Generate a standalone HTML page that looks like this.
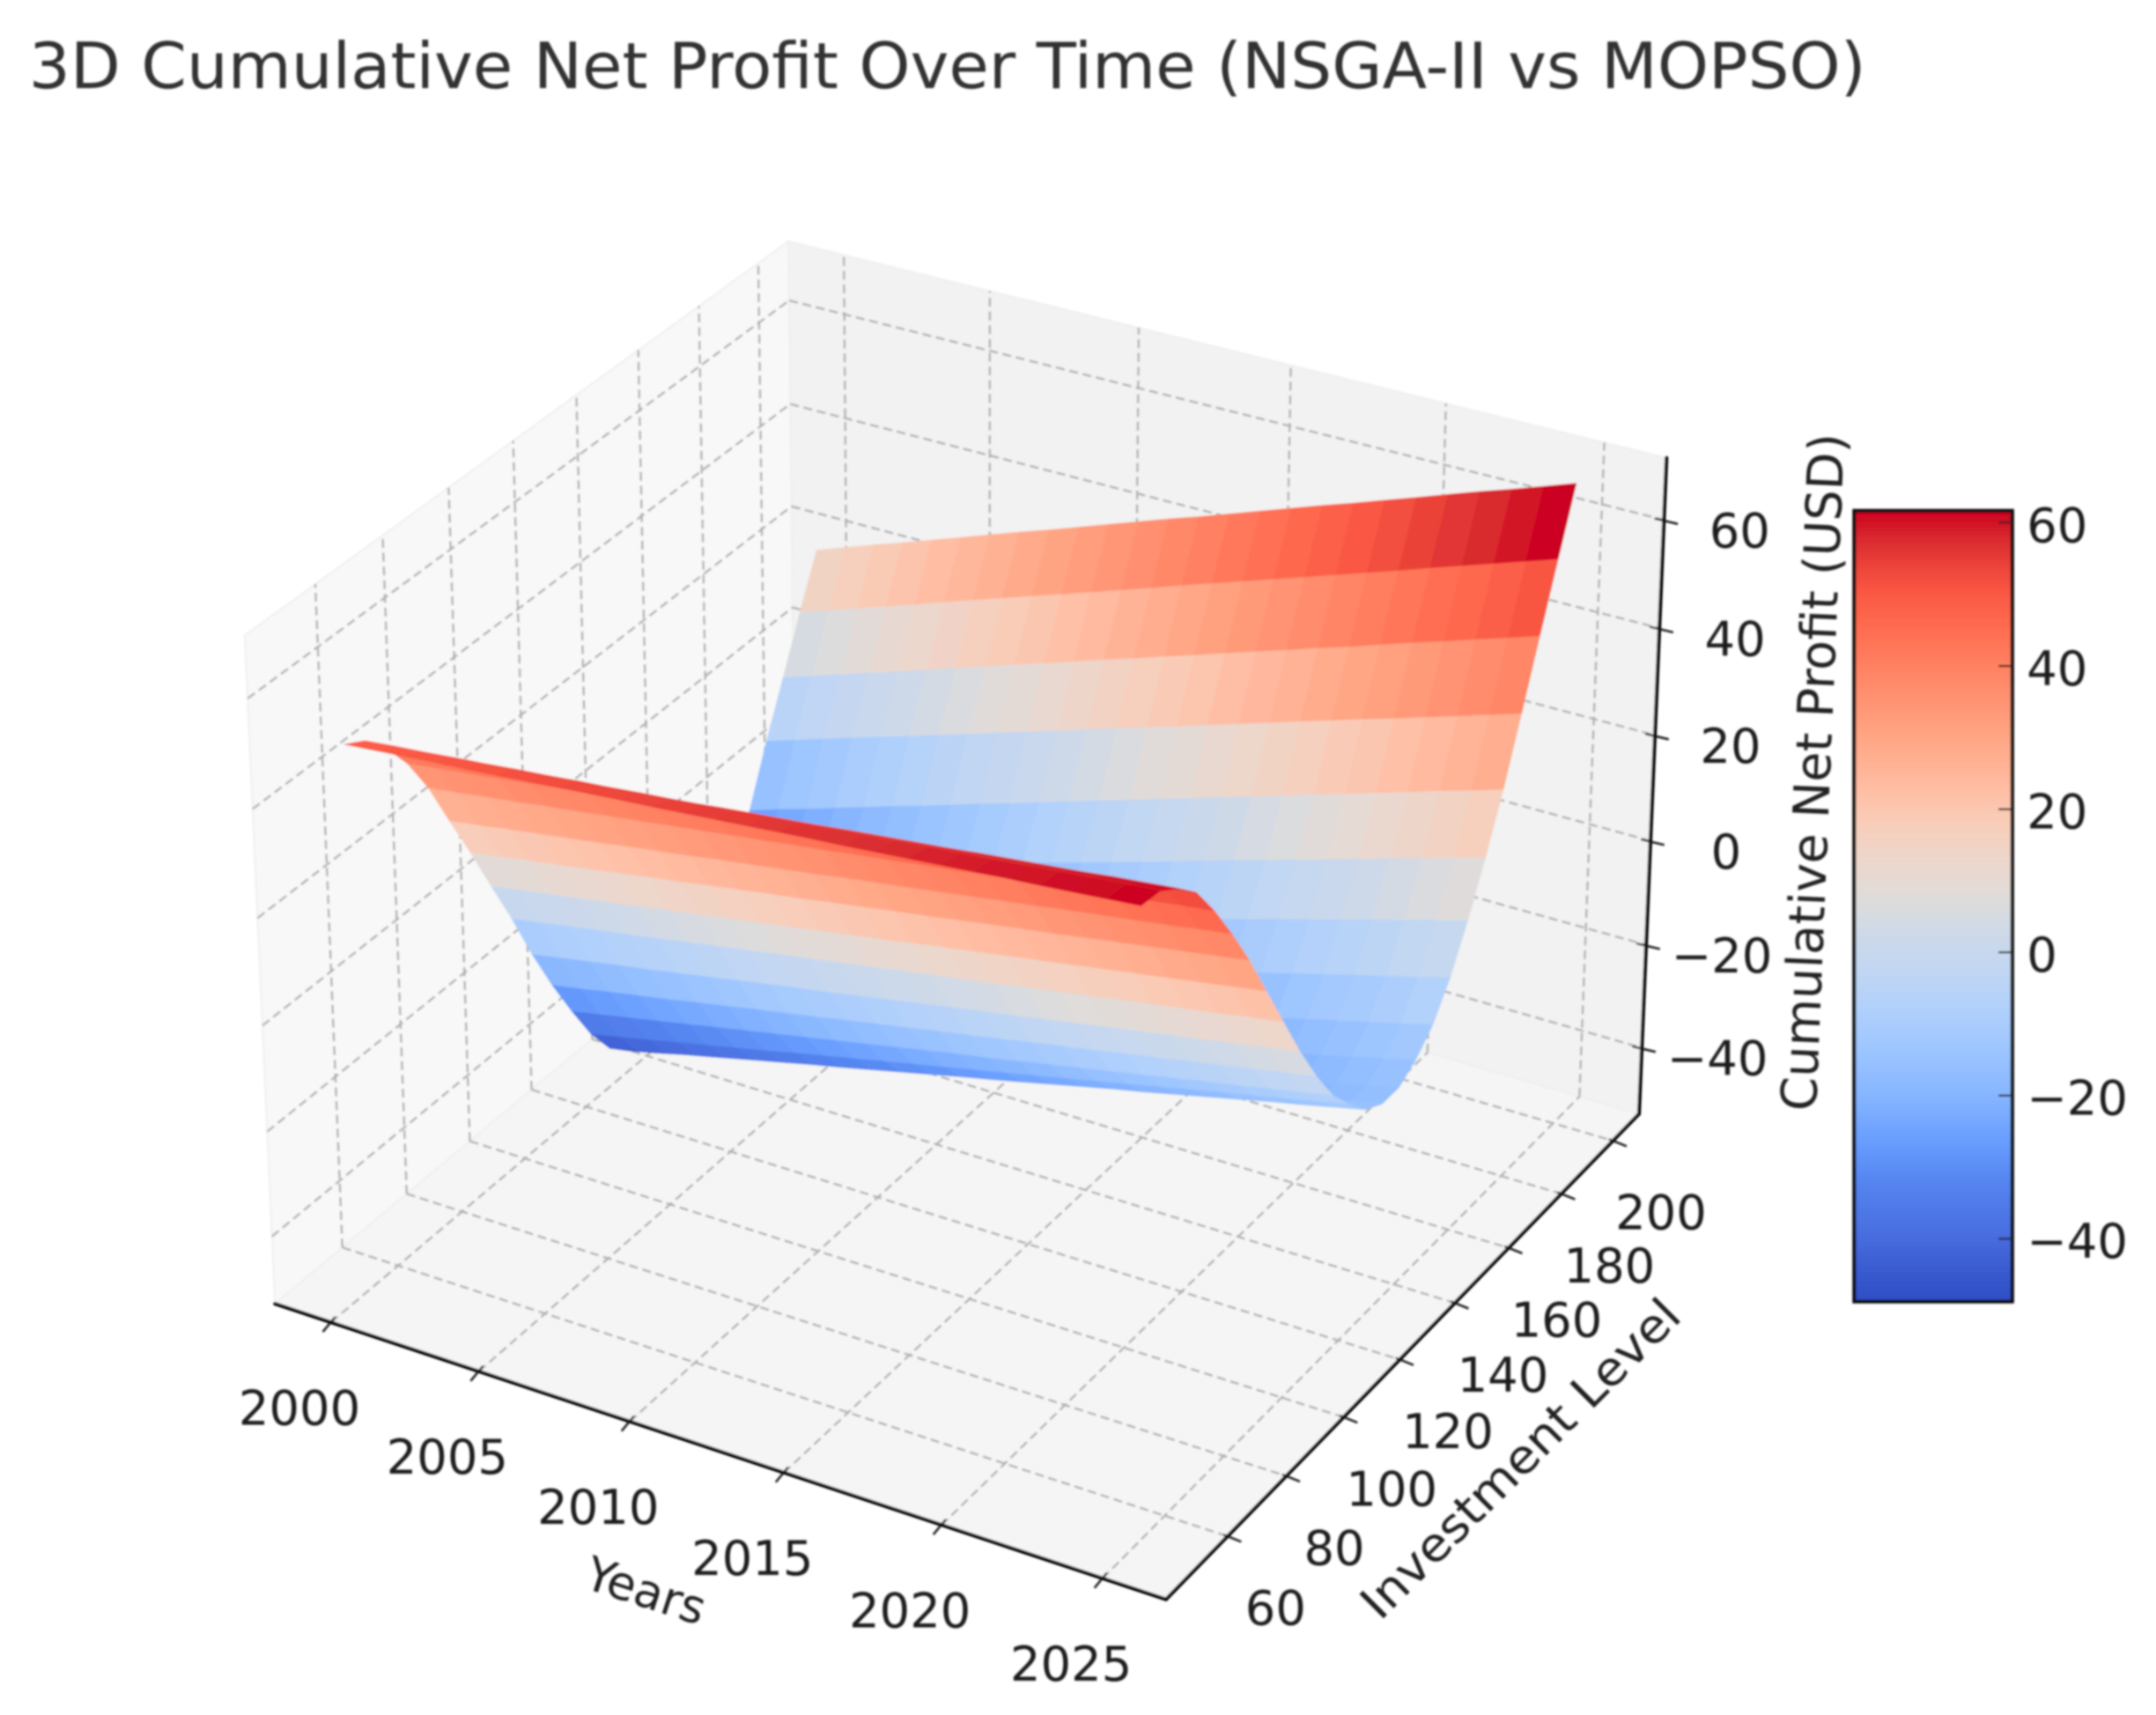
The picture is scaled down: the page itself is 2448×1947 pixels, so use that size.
<!DOCTYPE html>
<html lang="en">
<head>
<meta charset="utf-8">
<title>3D Cumulative Net Profit Over Time (NSGA-II vs MOPSO)</title>
<style>
html,body{margin:0;padding:0;background:#fff;}
svg{display:block;}
text{font-family:"DejaVu Sans","Liberation Sans",sans-serif;}
</style>
</head>
<body>
<svg id="chart" xmlns="http://www.w3.org/2000/svg" width="2448" height="1947" viewBox="0 0 1568 1247.1">
  <defs>
    <filter id="soft" filterUnits="userSpaceOnUse" x="0" y="0" width="1568" height="1248"><feGaussianBlur stdDeviation="0.6"/></filter>
    <linearGradient id="cbar-gradient" x1="0" y1="1" x2="0" y2="0"></linearGradient>
  </defs>
  <rect x="0" y="0" width="1568" height="1248" fill="#ffffff"/>
  <g id="root" filter="url(#soft)">
    <text x="21" y="64" font-size="46" fill="#333333" textLength="1336" lengthAdjust="spacingAndGlyphs">3D Cumulative Net Profit Over Time (NSGA-II vs MOPSO)</text>
    <g id="panes"></g>
    <g id="grid"></g>
    <g id="surface"></g>
    <g id="axes"></g>
    <g id="labels"></g>
    <text x="0" y="0" font-size="34" fill="#222222" text-anchor="middle" transform="translate(466,1168) rotate(18)">Years</text>
    <text x="0" y="0" font-size="34" fill="#222222" text-anchor="middle" textLength="312" lengthAdjust="spacingAndGlyphs" transform="translate(1114,1069) rotate(-45)">Investment Level</text>
    <text x="0" y="0" font-size="36" fill="#222222" text-anchor="middle" textLength="493" lengthAdjust="spacingAndGlyphs" transform="translate(1331,562) rotate(-87.6)">Cumulative Net Profit (USD)</text>
    <g id="colorbar"></g>
  </g>
</svg>
<script>
const years = [2000,2001,2002,2003,2004,2005,2006,2007,2008,2009,2010,2011,2012,2013,2014,2015,2016,2017,2018,2019,2020,2021,2022,2023,2024,2025];
const levels = [50,56,62,68,74,80,86,92,98,104,110,116,122,128,134,140,146,152,158,164,170,176,182,188,194,200];
const profit = [
[49.9,50.4,50.9,51.4,51.8,52.3,52.8,53.3,53.8,54.3,54.7,55.2,55.7,56.2,56.7,57.2,57.6,58.1,58.6,59.1,59.6,60.1,60.5,61.0,61.5,62.0],
[47.8,48.4,48.9,49.5,50.0,50.6,51.1,51.7,52.2,52.8,53.3,53.9,54.4,55.0,55.5,56.1,56.6,57.2,57.7,58.3,58.8,59.4,59.9,60.5,61.0,61.6],
[43.6,44.2,44.8,45.5,46.1,46.7,47.3,48.0,48.6,49.2,49.8,50.5,51.1,51.7,52.3,53.0,53.6,54.2,54.8,55.5,56.1,56.7,57.3,58.0,58.6,59.2],
[38.1,38.8,39.5,40.2,40.9,41.6,42.3,43.0,43.7,44.4,45.1,45.8,46.5,47.2,47.9,48.6,49.3,50.0,50.7,51.4,52.1,52.8,53.5,54.2,54.9,55.6],
[30.8,31.5,32.3,33.0,33.8,34.5,35.3,36.0,36.8,37.5,38.3,39.0,39.8,40.5,41.3,42.0,42.8,43.5,44.3,45.0,45.8,46.5,47.3,48.0,48.8,49.5],
[21.8,22.6,23.5,24.3,25.1,25.9,26.8,27.6,28.4,29.3,30.1,30.9,31.7,32.6,33.4,34.2,35.0,35.9,36.7,37.5,38.4,39.2,40.0,40.8,41.7,42.5],
[13.0,13.9,14.8,15.6,16.5,17.4,18.3,19.1,20.0,20.9,21.8,22.6,23.5,24.4,25.3,26.1,27.0,27.9,28.8,29.6,30.5,31.4,32.3,33.1,34.0,34.9],
[3.8,4.7,5.6,6.5,7.4,8.3,9.2,10.1,11.0,11.9,12.8,13.7,14.6,15.5,16.5,17.4,18.3,19.2,20.1,21.0,21.9,22.8,23.7,24.6,25.5,26.4],
[-5.3,-4.4,-3.4,-2.5,-1.6,-0.7,0.3,1.2,2.1,3.1,4.0,4.9,5.8,6.8,7.7,8.6,9.5,10.5,11.4,12.3,13.3,14.2,15.1,16.0,17.0,17.9],
[-15.1,-14.1,-13.1,-12.1,-11.2,-10.2,-9.2,-8.2,-7.2,-6.2,-5.3,-4.3,-3.3,-2.3,-1.3,-0.3,0.6,1.6,2.6,3.6,4.6,5.6,6.5,7.5,8.5,9.5],
[-24.0,-23.0,-21.9,-20.9,-19.9,-18.8,-17.8,-16.7,-15.7,-14.7,-13.6,-12.6,-11.6,-10.5,-9.5,-8.5,-7.4,-6.4,-5.4,-4.3,-3.3,-2.2,-1.2,-0.2,0.9,1.9],
[-32.1,-31.0,-29.9,-28.8,-27.7,-26.6,-25.5,-24.4,-23.3,-22.2,-21.1,-20.0,-18.9,-17.8,-16.8,-15.7,-14.6,-13.5,-12.4,-11.3,-10.2,-9.1,-8.0,-6.9,-5.8,-4.7],
[-39.6,-38.4,-37.2,-36.0,-34.8,-33.6,-32.4,-31.1,-29.9,-28.7,-27.5,-26.3,-25.1,-23.9,-22.7,-21.5,-20.3,-19.1,-17.9,-16.6,-15.4,-14.2,-13.0,-11.8,-10.6,-9.4],
[-45.5,-44.2,-42.9,-41.7,-40.4,-39.1,-37.8,-36.5,-35.3,-34.0,-32.7,-31.4,-30.1,-28.9,-27.6,-26.3,-25.0,-23.7,-22.5,-21.2,-19.9,-18.6,-17.3,-16.1,-14.8,-13.5],
[-49.0,-47.7,-46.3,-45.0,-43.6,-42.3,-41.0,-39.6,-38.3,-36.9,-35.6,-34.3,-32.9,-31.6,-30.2,-28.9,-27.6,-26.2,-24.9,-23.5,-22.2,-20.9,-19.5,-18.2,-16.8,-15.5],
[-49.9,-48.5,-47.1,-45.8,-44.4,-43.0,-41.6,-40.3,-38.9,-37.5,-36.1,-34.8,-33.4,-32.0,-30.6,-29.3,-27.9,-26.5,-25.1,-23.8,-22.4,-21.0,-19.6,-18.3,-16.9,-15.5],
[-49.0,-47.6,-46.1,-44.7,-43.3,-41.9,-40.4,-39.0,-37.6,-36.1,-34.7,-33.3,-31.9,-30.4,-29.0,-27.6,-26.2,-24.7,-23.3,-21.9,-20.4,-19.0,-17.6,-16.2,-14.7,-13.3],
[-46.0,-44.5,-43.1,-41.6,-40.2,-38.7,-37.3,-35.8,-34.4,-32.9,-31.5,-30.0,-28.6,-27.1,-25.7,-24.2,-22.8,-21.3,-19.9,-18.4,-17.0,-15.5,-14.1,-12.6,-11.2,-9.7],
[-42.5,-41.0,-39.4,-37.9,-36.3,-34.8,-33.2,-31.7,-30.1,-28.6,-27.0,-25.5,-23.9,-22.4,-20.8,-19.3,-17.7,-16.2,-14.6,-13.1,-11.5,-10.0,-8.4,-6.9,-5.4,-3.8],
[-37.0,-35.4,-33.7,-32.1,-30.4,-28.8,-27.2,-25.5,-23.9,-22.2,-20.6,-19.0,-17.3,-15.7,-14.0,-12.4,-10.8,-9.1,-7.5,-5.8,-4.2,-2.6,-0.9,0.7,2.4,4.0],
[-30.0,-28.3,-26.6,-24.9,-23.1,-21.4,-19.7,-18.0,-16.3,-14.6,-12.8,-11.1,-9.4,-7.7,-6.0,-4.3,-2.5,-0.8,0.9,2.6,4.3,6.0,7.8,9.5,11.2,12.9],
[-21.6,-19.8,-18.1,-16.3,-14.5,-12.7,-11.0,-9.2,-7.4,-5.7,-3.9,-2.1,-0.3,1.4,3.2,5.0,6.8,8.5,10.3,12.1,13.8,15.6,17.4,19.2,20.9,22.7],
[-10.7,-8.9,-7.1,-5.3,-3.5,-1.8,0.0,1.8,3.6,5.4,7.2,9.0,10.8,12.5,14.3,16.1,17.9,19.7,21.5,23.3,25.1,26.8,28.6,30.4,32.2,34.0],
[-0.9,1.0,2.8,4.7,6.5,8.4,10.3,12.1,14.0,15.8,17.7,19.6,21.4,23.3,25.1,27.0,28.9,30.7,32.6,34.4,36.3,38.2,40.0,41.9,43.7,45.6],
[9.2,11.1,13.0,14.9,16.8,18.8,20.7,22.6,24.5,26.4,28.3,30.2,32.1,34.1,36.0,37.9,39.8,41.7,43.6,45.5,47.4,49.4,51.3,53.2,55.1,57.0],
[18.8,20.8,22.8,24.7,26.7,28.7,30.7,32.7,34.6,36.6,38.6,40.6,42.6,44.5,46.5,48.5,50.5,52.5,54.4,56.4,58.4,60.4,62.4,64.3,66.3,68.3]
];
const xTicks = [2000,2005,2010,2015,2020,2025];
const yTicks = [60,80,100,120,140,160,180,200];
const zTicks = [-40,-20,0,20,40,60];
const colorbarTicks = [-40,-20,0,20,40,60];
const colorStops = [
  [0,"#2f4ec4"],[0.024,"#3555cc"],[0.089,"#4a6fe0"],[0.152,"#5585f0"],[0.206,"#6a9fff"],
  [0.26,"#86b5ff"],[0.315,"#9cc5ff"],[0.369,"#b0d0fc"],[0.423,"#c3d7f2"],[0.468,"#ced9e8"],
  [0.504,"#dddcdc"],[0.549,"#ead8cf"],[0.603,"#f8ceba"],[0.649,"#ffbda3"],[0.712,"#ffa685"],
  [0.784,"#ff8a6a"],[0.847,"#ff6e52"],[0.892,"#fb5a45"],[0.92,"#f04a3c"],[0.965,"#d92a2f"],[1,"#cc0020"]
];

const NS = "http://www.w3.org/2000/svg";
function make(tag, parent, attrs) {
  const el = document.createElementNS(NS, tag);
  for (const k in attrs) el.setAttribute(k, attrs[k]);
  parent.appendChild(el);
  return el;
}

/* axis scales: data value -> unit cube coordinate */
function toU(year) { return 0.0667 + (year - 2000) * 0.03465; }
function toV(level) { return (level - 39.5) / 170.8; }
function toW(z) { return (z + 53) / 124.3; }

/* perspective projection of the unit cube to chart coordinates */
function project(u, v, w) {
  const d = 1 - 0.06 * u + 0.09 * v - 0.0412 * w;
  return [
    (200 + 597.12 * u + 430.68 * v - 29.33 * w) / d,
    (948 + 145.22 * u - 258.92 * v - 505.03 * w) / d
  ];
}
function fmt(p) { return p[0].toFixed(1) + "," + p[1].toFixed(1); }

function cmap(f) {
  f = Math.max(0, Math.min(1, f));
  for (let i = 1; i < colorStops.length; i++) {
    if (f <= colorStops[i][0]) {
      const a = colorStops[i - 1], b = colorStops[i];
      const t = (f - a[0]) / (b[0] - a[0]);
      const ca = parseInt(a[1].slice(1), 16), cb = parseInt(b[1].slice(1), 16);
      const r = Math.round((ca >> 16) + ((cb >> 16) - (ca >> 16)) * t);
      const g = Math.round(((ca >> 8) & 255) + (((cb >> 8) & 255) - ((ca >> 8) & 255)) * t);
      const bl = Math.round((ca & 255) + ((cb & 255) - (ca & 255)) * t);
      return "rgb(" + r + "," + g + "," + bl + ")";
    }
  }
  return colorStops[colorStops.length - 1][1];
}

/* panes */
const panes = document.getElementById("panes");
const paneDefs = [
  ["left-wall-pane", "#f8f8f8", [[0,0,0],[0,1,0],[0,1,1],[0,0,1]]],
  ["back-wall-pane", "#f2f2f2", [[0,1,0],[1,1,0],[1,1,1],[0,1,1]]],
  ["floor-pane", "#f5f5f5", [[0,0,0],[1,0,0],[1,1,0],[0,1,0]]]
];
paneDefs.forEach(function (def) {
  const poly = make("polygon", panes, {
    points: def[2].map(function (c) { return fmt(project(c[0], c[1], c[2])); }).join(" "),
    fill: def[1], stroke: "#efefef", "stroke-width": 1.2
  });
  
  
});

/* grid */
const grid = document.getElementById("grid");
function gridLine(a, b, name) {
  const pa = project(a[0], a[1], a[2]), pb = project(b[0], b[1], b[2]);
  const line = make("line", grid, {
    x1: pa[0].toFixed(1), y1: pa[1].toFixed(1), x2: pb[0].toFixed(1), y2: pb[1].toFixed(1),
    stroke: "#afafaf", "stroke-width": 1.5, "stroke-dasharray": "6.5 3.5"
  });
  
  
}
xTicks.forEach(function (t) {
  const u = toU(t);
  gridLine([u, 0, 0], [u, 1, 0], "x-gridline-floor");
  gridLine([u, 1, 0], [u, 1, 1], "x-gridline-wall");
});
yTicks.forEach(function (t) {
  const v = toV(t);
  gridLine([0, v, 0], [1, v, 0], "y-gridline-floor");
  gridLine([0, v, 0], [0, v, 1], "y-gridline-wall");
});
zTicks.forEach(function (t) {
  const w = toW(t);
  gridLine([0, 0, w], [0, 1, w], "z-gridline-left-wall");
  gridLine([0, 1, w], [1, 1, w], "z-gridline-back-wall");
});

/* surface faces: colour range comes from face averages */
let vmin = Infinity, vmax = -Infinity;
const faceValues = [];
for (let j = 0; j < levels.length - 1; j++) {
  faceValues.push([]);
  for (let i = 0; i < years.length - 1; i++) {
    const avg = (profit[j][i] + profit[j][i + 1] + profit[j + 1][i] + profit[j + 1][i + 1]) / 4;
    faceValues[j].push(avg);
    if (avg < vmin) vmin = avg;
    if (avg > vmax) vmax = avg;
  }
}
const surface = document.getElementById("surface");
for (let j = levels.length - 2; j >= 0; j--) {
  for (let i = 0; i < years.length - 1; i++) {
    const corners = [[i, j], [i + 1, j], [i + 1, j + 1], [i, j + 1]];
    const color = cmap((faceValues[j][i] - vmin) / (vmax - vmin));
    const pts = corners.map(function (c) {
      return fmt(project(toU(years[c[0]]), toV(levels[c[1]]), toW(profit[c[1]][c[0]])));
    }).join(" ");
    const face = make("polygon", surface, { points: pts, fill: color, stroke: color, "stroke-width": 0.3 });
    
    
  }
}

/* axes lines */
const axes = document.getElementById("axes");
const axisDefs = [
  ["x-axis-line", [0,0,0], [1,0,0]],
  ["y-axis-line", [1,0,0], [1,1,0]],
  ["z-axis-line", [1,1,0], [1,1,1]]
];
axisDefs.forEach(function (def) {
  const a = project(def[1][0], def[1][1], def[1][2]), b = project(def[2][0], def[2][1], def[2][2]);
  const line = make("line", axes, {
    x1: a[0].toFixed(1), y1: a[1].toFixed(1), x2: b[0].toFixed(1), y2: b[1].toFixed(1),
    stroke: "#000000", "stroke-width": 2.6, "stroke-linecap": "round"
  });
  
  
});

/* ticks and labels */
const labels = document.getElementById("labels");
function tickMark(p, d1, d2, name) {
  const line = make("line", axes, {
    x1: (p[0] + d1[0]).toFixed(1), y1: (p[1] + d1[1]).toFixed(1),
    x2: (p[0] + d2[0]).toFixed(1), y2: (p[1] + d2[1]).toFixed(1),
    stroke: "#111111", "stroke-width": 1.5
  });
  
  
}
function tickLabel(x, y, value, name) {
  const t = make("text", labels, { x: x.toFixed(1), y: (y + 12.5).toFixed(1), "font-size": 34.8, fill: "#1c1c1c", "text-anchor": "middle" });
  t.textContent = String(value).replace("-", "\u2212");
  
  
}
xTicks.forEach(function (t) {
  const p = project(toU(t), 0, 0);
  tickMark(p, [3, -4], [-6, 7], "x-tick");
  tickLabel(p[0] - 23, p[1] + 62, t, "x-tick-label");
});
yTicks.forEach(function (t) {
  const p = project(1, toV(t), 0);
  tickMark(p, [-3, -1.2], [10, 4], "y-tick");
  tickLabel(p[0] + 35, p[1] + 52, t, "y-tick-label");
});
zTicks.forEach(function (t) {
  const p = project(1, 1, toW(t));
  tickMark(p, [-7, -1], [10, 3], "z-tick");
  tickLabel(p[0] + 55, p[1] + 7.5, t, "z-tick-label");
});

/* colorbar */
const gradient = document.getElementById("cbar-gradient");
colorStops.forEach(function (s) {
  make("stop", gradient, { offset: s[0], "stop-color": s[1] });
});
const colorbar = document.getElementById("colorbar");
function colorbarY(z) { return 946.5 - (z - vmin) / (vmax - vmin) * 575.1; }
const bar = make("rect", colorbar, {
  x: 1348.5, y: colorbarY(vmax).toFixed(1), width: 115, height: (colorbarY(vmin) - colorbarY(vmax)).toFixed(1),
  fill: "url(#cbar-gradient)", stroke: "#111111", "stroke-width": 2.6
});


colorbarTicks.forEach(function (t) {
  const y = colorbarY(t);
  const mark = make("line", colorbar, { x1: 1453.5, y1: y.toFixed(1), x2: 1463.5, y2: y.toFixed(1), stroke: "#222222", "stroke-width": 1.4 });
  
  
  const label = make("text", colorbar, { x: 1474, y: (y + 14).toFixed(1), "font-size": 34.8, fill: "#1c1c1c" });
  label.textContent = String(t).replace("-", "\u2212");
  
  
});
</script>
</body>
</html>
